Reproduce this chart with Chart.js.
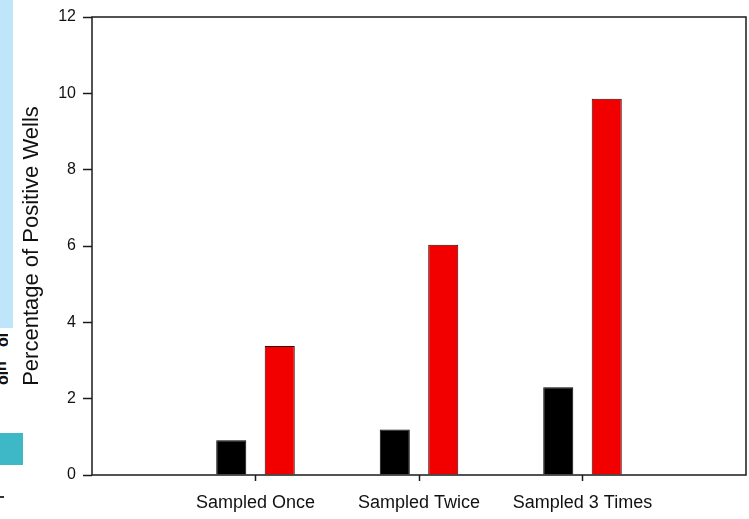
<!DOCTYPE html>
<html>
<head>
<meta charset="utf-8">
<script src="https://cdn.jsdelivr.net/npm/chart.js@4.4.1/dist/chart.umd.min.js"></script>
<style>
  html, body { margin: 0; padding: 0; background: #fff; }
  #wrap { position: relative; width: 749px; height: 519px; overflow: hidden; }
  canvas { position: absolute; left: 0; top: 0; }
  .deco { position: absolute; }
  .frag { position: absolute; left: -4px; font-family: "Liberation Sans", Arial, sans-serif; font-weight: bold; font-size: 16px; line-height: 16px; color: #111; transform: rotate(-90deg); transform-origin: center; white-space: nowrap; }
</style>
</head>
<body>
<div id="wrap">
  <div class="deco" style="left:0;top:0;width:13px;height:328px;background:#bfe5fb;"></div>
  <div class="deco" style="left:0;top:330px;width:8px;height:60px;overflow:hidden;">
    <span class="frag" style="top:2px;">ol</span>
    <span class="frag" style="top:28px;">n</span>
    <span class="frag" style="top:40px;">ol</span>
  </div>
  <div class="deco" style="left:0;top:433px;width:23px;height:32px;background:#3eb7c6;"></div>
  <div class="deco" style="left:0;top:496px;width:4px;height:2px;background:#333;"></div>
  <canvas id="c" width="749" height="519"></canvas>
</div>
<script>
const categories = ['', 'Sampled Once', 'Sampled Twice', 'Sampled 3 Times', ''];
const blackSeries = [null, 0.91, 1.19, 2.30, null];
const redSeries = [null, 3.38, 6.03, 9.86, null];
const yTicks = [0, 2, 4, 6, 8, 10, 12];

const boxPlugin = {
  id: 'box',
  afterDraw(chart) {
    const a = chart.chartArea, ctx = chart.ctx;
    ctx.save();
    ctx.strokeStyle = '#1a1a1a';
    ctx.lineWidth = 1.5;
    ctx.strokeRect(a.left, a.top, a.right - a.left, a.bottom - a.top);
    ctx.restore();
  }
};

const edgeHide = (c) => (c.index === 0 || c.index === categories.length - 1) ? 'rgba(0,0,0,0)' : '#1a1a1a';

new Chart(document.getElementById('c'), {
  type: 'bar',
  data: {
    labels: categories,
    datasets: [
      { data: blackSeries, backgroundColor: '#000000', borderColor: '#000000', borderWidth: 1,
        categoryPercentage: 0.593, barPercentage: 0.62 },
      { data: redSeries, backgroundColor: '#f20000', borderColor: '#3a0000', borderWidth: 1,
        categoryPercentage: 0.593, barPercentage: 0.62 }
    ]
  },
  options: {
    responsive: false,
    animation: false,
    events: [],
    layout: { padding: { top: 17, right: 3, left: 0, bottom: 0 } },
    plugins: { legend: { display: false }, tooltip: { enabled: false } },
    scales: {
      x: {
        offset: false,
        grid: { display: true, drawOnChartArea: false, drawTicks: true, tickLength: 6, offset: false,
                color: edgeHide, tickColor: edgeHide, tickWidth: 1.5 },
        border: { display: false },
        ticks: { color: '#111', font: { family: 'Liberation Sans', size: 18 }, padding: 11, maxRotation: 0, autoSkip: false },
        afterFit(s) { s.height = 44; s.paddingLeft = 0; s.paddingRight = 0; }
      },
      y: {
        min: 0, max: 12,
        afterBuildTicks(s) { s.ticks = yTicks.map(v => ({ value: v })); },
        grid: { display: true, drawOnChartArea: false, drawTicks: true, tickLength: 9, color: '#1a1a1a', tickWidth: 1.5 },
        border: { display: false },
        ticks: { color: '#111', font: { family: 'Liberation Sans', size: 16 }, padding: 7 },
        title: { display: true, text: 'Percentage of Positive Wells', color: '#111',
                 font: { family: 'Liberation Sans', size: 22 }, padding: { top: 19, bottom: 0 } },
        afterFit(s) { s.width = 92; }
      }
    }
  },
  plugins: [boxPlugin]
});
</script>
</body>
</html>
